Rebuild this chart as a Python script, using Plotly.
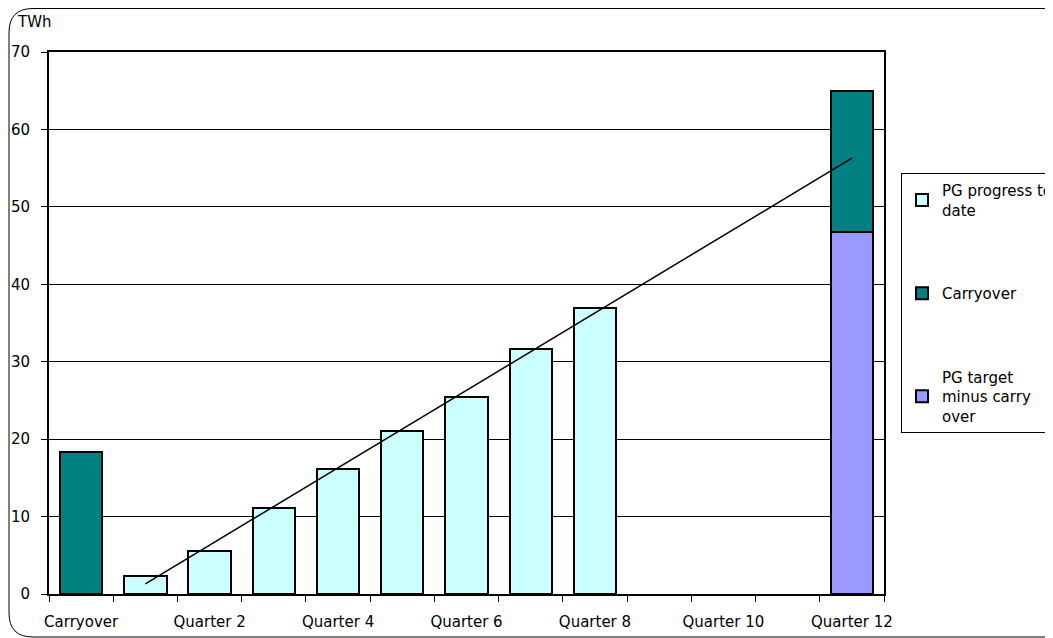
import plotly.graph_objects as go

categories = ["Carryover"] + [f"Quarter {i}" for i in range(1, 13)]
quarters = categories[1:]

progress_x = ["Quarter 1", "Quarter 2", "Quarter 3", "Quarter 4",
              "Quarter 5", "Quarter 6", "Quarter 7", "Quarter 8"]
progress_vals = [2.3, 5.6, 11.1, 16.2, 21.1, 25.5, 31.7, 36.9]

carry_x = ["Carryover", "Quarter 12"]
carry_vals = [18.3, 18.3]

target_x = ["Quarter 12"]
target_vals = [46.7]

line_x = quarters
line_vals = [1.3, 6.3, 11.3, 16.3, 21.3, 26.3, 31.3, 36.3, 41.3, 46.3, 51.3, 56.3]

tick_text = [c if i % 2 == 0 else "" for i, c in enumerate(categories)]

FONT = "DejaVu Sans"
FS = 15
OFF = 8  # page body margin
W, H = 1045, 630
L, R, T, B = 41, 169, 44, 44
PW, PH = W - L - R, H - T - B


def px(x):
    return (x - OFF - L) / PW


def py(y):
    return (H - B - (y - OFF)) / PH


fig = go.Figure()
fig.add_trace(go.Bar(x=progress_x, y=progress_vals, name="PG progress to<br>date",
                     marker=dict(color="#CCFFFF", line=dict(color="black", width=2)),
                     legendgroup="a", legendrank=1))
fig.add_trace(go.Bar(x=target_x, y=target_vals, name="PG target<br>minus carry<br>over",
                     marker=dict(color="#9999FF", line=dict(color="black", width=2)),
                     legendgroup="c", legendrank=3))
fig.add_trace(go.Bar(x=carry_x, y=carry_vals, name="Carryover",
                     marker=dict(color="#008080", line=dict(color="black", width=2)),
                     legendgroup="b", legendrank=2))
fig.add_trace(go.Scatter(x=line_x, y=line_vals, mode="lines",
                         line=dict(color="black", width=1.5), showlegend=False,
                         hoverinfo="skip"))

# rounded chart border
x0, x1, y0, y1 = px(9), px(1070), py(637), py(8.5)
rx, ry = 24 / PW, 24 / PH
path = (f"M {x0},{y1 - ry} Q {x0},{y1} {x0 + rx},{y1} L {x1},{y1} "
        f"L {x1},{y0} L {x0 + rx},{y0} Q {x0},{y0} {x0},{y0 + ry} Z")
fig.add_shape(type="path", path=path, xref="paper", yref="paper",
              line=dict(color="black", width=1), layer="below")

fig.add_annotation(text="TWh", x=px(15), y=py(22), xref="paper", yref="paper",
                   xanchor="left", yanchor="middle", showarrow=False,
                   font=dict(family=FONT, size=FS, color="black"))

fig.update_layout(
    width=W, height=H,
    margin=dict(l=L, r=R, t=T, b=B, autoexpand=False),
    paper_bgcolor="white", plot_bgcolor="white",
    barmode="stack", bargap=0.34,
    font=dict(family=FONT, size=FS, color="black"),
    showlegend=True,
    legend=dict(x=px(901), y=py(173), xanchor="left", yanchor="top",
                bordercolor="black", borderwidth=1, bgcolor="white",
                traceorder="grouped", tracegroupgap=61,
                font=dict(family=FONT, size=FS, color="black"),
                itemwidth=30),
    xaxis=dict(type="category", categoryorder="array", categoryarray=categories,
               tickmode="array", tickvals=categories, ticktext=tick_text,
               tickson="boundaries", ticks="outside", ticklen=6, tickcolor="black",
               tickwidth=1, showline=True, linecolor="black", linewidth=2,
               mirror=True, showgrid=False, range=[-0.5, 12.5], tickangle=0,
               ticklabelstandoff=13, tickfont=dict(family=FONT, size=FS)),
    yaxis=dict(range=[0, 70], tickmode="linear", tick0=0, dtick=10,
               ticks="outside", ticklen=6, tickcolor="black", tickwidth=1,
               showline=True, linecolor="black", linewidth=2, mirror=True,
               showgrid=True, gridcolor="black", gridwidth=1, zeroline=False,
               ticklabelstandoff=8, tickfont=dict(family=FONT, size=FS)),
)

fig.write_html("out.html")
